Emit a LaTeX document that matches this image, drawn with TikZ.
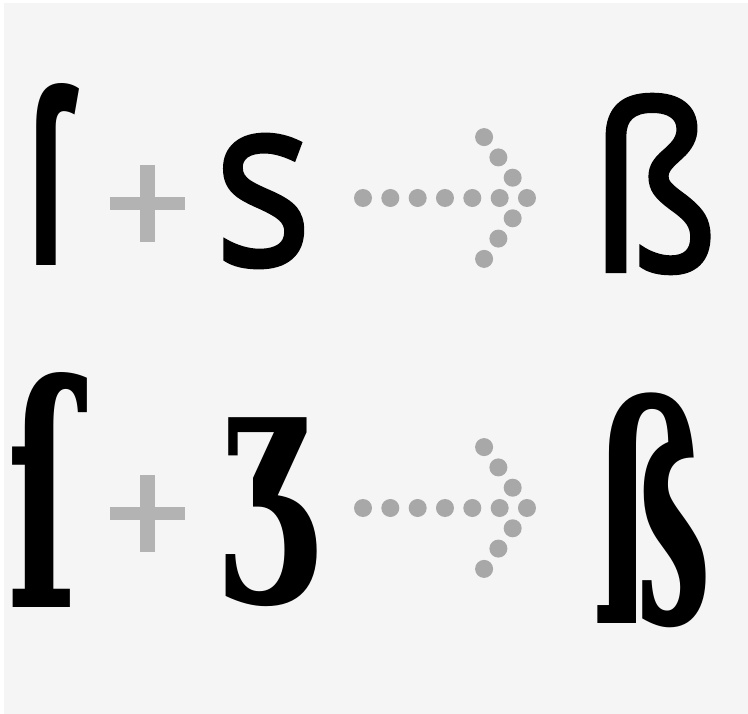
\documentclass[tikz,border=0pt]{standalone}
\usepackage{fontspec}
\usepackage{graphicx}
\newfontfamily\sansglyph{Open Sans}
\newfontfamily\sansmid{Open Sans}[FakeBold=2]
\newfontfamily\serifglyph{DejaVu Serif}
\definecolor{bg}{HTML}{F5F5F5}
\definecolor{plusgray}{HTML}{B3B3B3}
\definecolor{dotgray}{HTML}{A8A8A8}
\tikzset{
  sansletter/.style={anchor=center, inner sep=0pt, font=\sansmid\fontsize{240}{240}\selectfont},
  sansheavy/.style={anchor=center, inner sep=0pt, font=\sansglyph\bfseries\fontsize{240}{240}\selectfont},
  serifletter/.style={anchor=center, inner sep=0pt, font=\serifglyph\bfseries\fontsize{300}{300}\selectfont},
  plusbar/.style={fill=plusgray},
  dotmark/.style={fill=dotgray}
}
\newcommand{\fitglyph}[3]{\resizebox*{#1}{#2pt}{#3}}
\newcommand{\dotarrow}[2]{%
  \foreach \i in {0,...,6} {\fill[dotmark] ({#1+\i*27.33},#2) circle (9);}
  \foreach \j in {1,2,3} {
    \fill[dotmark] ({#1+163.98-\j*14.3},{#2-\j*20.3}) circle (9);
    \fill[dotmark] ({#1+163.98-\j*14.3},{#2+\j*20.3}) circle (9);
  }}
\newcommand{\plussign}[2]{%
  \fill[plusbar] ({#1-37.5},{#2-6.5}) rectangle ({#1+37.5},{#2+6.5});
  \fill[plusbar] ({#1-7.5},{#2-38.5}) rectangle ({#1+7.5},{#2+38.5});}
\begin{document}
\begin{tikzpicture}[x=1pt,y=-1pt]
\fill[white] (0,0) rectangle (748,714);
\fill[bg] (4,3) rectangle (748,714);
\useasboundingbox (0,0) rectangle (748,714);
% row 1
\node[sansheavy] (longs1) at (51,174) {\fitglyph{50pt}{182}{ſ}};
\plussign{147.5}{203.5}
\node[sansletter] (rounds1) at (263,201) {\fitglyph{97pt}{132}{s}};
\dotarrow{363}{198}
\node[sansletter] (eszett1) at (654,184) {\fitglyph{128pt}{178}{ß}};
% row 2
\node[serifletter] (longs2) at (43,490) {\fitglyph{71pt}{235}{ſ}};
\plussign{147.5}{513.5}
\node[serifletter] (zet2) at (266,512) {\fitglyph{92pt}{189}{ʒ}};
\dotarrow{363}{508}
\node[serifletter] (eszett2) at (652,510) {\fitglyph{119pt}{235}{ß}};
\end{tikzpicture}
\end{document}
